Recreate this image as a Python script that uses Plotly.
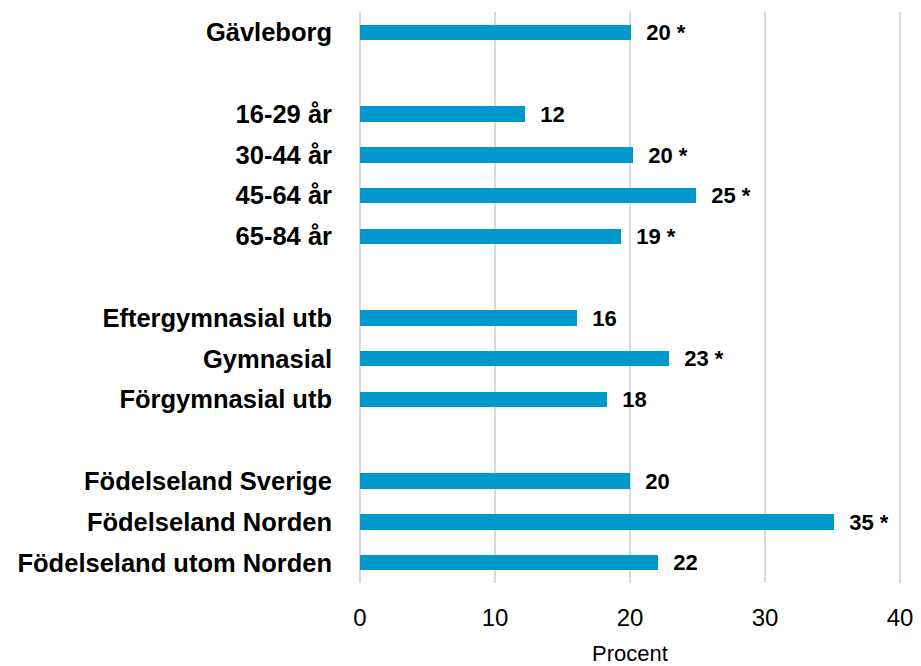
import plotly.graph_objects as go

categories = ["Gävleborg", " ", "16-29 år", "30-44 år", "45-64 år", "65-84 år", "  ",
              "Eftergymnasial utb", "Gymnasial", "Förgymnasial utb", "   ",
              "Födelseland Sverige", "Födelseland Norden", "Födelseland utom Norden"]
values = [20.1, None, 12.2, 20.2, 24.9, 19.3, None, 16.1, 22.9, 18.3, None, 20.0, 35.1, 22.1]
labels = ["20 *", "", "12", "20 *", "25 *", "19 *", "", "16", "23 *", "18", "", "20", "35 *", "22"]
x_ticks = [0, 10, 20, 30, 40]

pad = "\u00a0\u00a0"
fig = go.Figure(go.Bar(
    y=categories, x=values, orientation="h",
    marker=dict(color="#0099CC", line=dict(width=0)),
    width=0.38,
    text=[pad + t if t else "" for t in labels],
    textposition="outside", constraintext="none", cliponaxis=False,
    textfont=dict(family="Liberation Sans", size=22, color="#000000", weight="bold"),
))
fig.update_layout(
    width=921, height=666,
    margin=dict(l=358, r=19, t=12, b=83),
    plot_bgcolor="white", paper_bgcolor="white",
    showlegend=False,
    font=dict(family="Liberation Sans", color="#000000"),
    bargap=0,
)
fig.update_xaxes(range=[-0.15, 40.15], tickvals=x_ticks, showgrid=True, gridcolor="#D9D9D9",
                 gridwidth=2, zeroline=True, zerolinecolor="#D9D9D9", zerolinewidth=2,
                 showline=False, automargin=False,
                 ticklabelstandoff=18,
                 tickfont=dict(size=24, family="Liberation Sans"),
                 title=dict(text="Procent", font=dict(size=22, family="Liberation Sans"), standoff=16))
fig.update_yaxes(categoryorder="array", categoryarray=categories, autorange="reversed",
                 showgrid=False, zeroline=False, showline=False, ticks="", automargin=False,
                 ticklabelstandoff=25,
                 tickfont=dict(size=25.5, family="Liberation Sans", weight="bold"))
fig.write_html("out.html", config={"displayModeBar": False},
               post_script="document.body.style.margin='0';document.body.style.overflow='hidden';")
